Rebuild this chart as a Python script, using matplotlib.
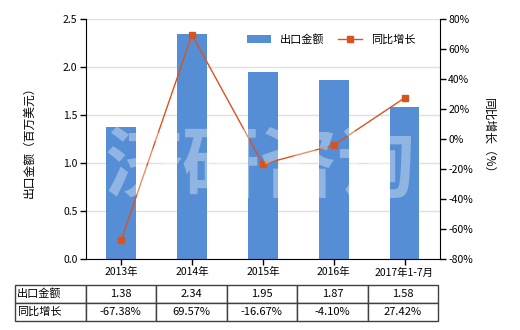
import matplotlib
matplotlib.use("Agg")
import matplotlib.pyplot as plt

plt.rcParams['font.family'] = ['Noto Sans CJK SC', 'DejaVu Sans']
plt.rcParams['axes.unicode_minus'] = False

# 数据
categories = ["2013年", "2014年", "2015年", "2016年", "2017年1-7月"]
export_values = [1.38, 2.34, 1.95, 1.87, 1.58]
growth_rates = [-67.38, 69.57, -16.67, -4.10, 27.42]

bar_color = "#558ED5"
line_color = "#D9531E"

fig = plt.figure(figsize=(5.2, 3.3), dpi=100)
ax = fig.add_axes([0.165, 0.215, 0.681, 0.727])
ax2 = ax.twinx()

x = list(range(len(categories)))
ax.bar(x, export_values, width=0.42, color=bar_color, label="出口金额", zorder=2)
ax2.plot(x, growth_rates, color=line_color, lw=1, marker='s', markersize=5,
         label="同比增长", zorder=3)

ax.set_xlim(-0.5, len(categories) - 0.5)
ax.set_ylim(0, 2.5)
ax.set_yticks([0, 0.5, 1.0, 1.5, 2.0, 2.5])
ax.set_yticklabels(["0.0", "0.5", "1.0", "1.5", "2.0", "2.5"])
ax2.set_ylim(-80, 80)
ax2.set_yticks(range(-80, 81, 20))
ax2.set_yticklabels([f"{v}%" for v in range(-80, 81, 20)])

ax.set_xticks(x)
ax.set_xticklabels(categories)
ax.grid(axis='y', color='#e0e0e0', lw=1, zorder=0)
ax.set_axisbelow(True)

for a in (ax, ax2):
    a.spines['top'].set_visible(False)
    a.tick_params(labelsize=7.5, length=4, width=1, colors='black', pad=2)
ax.spines['right'].set_visible(False)
ax2.spines['left'].set_visible(False)
ax2.spines['bottom'].set_visible(False)

ax.set_ylabel("出口金额（百万美元）", fontsize=8.5, labelpad=20)
ax2.set_ylabel("同比增长（%）", fontsize=8.5, rotation=-90, labelpad=16)

# 图例
h1, l1 = ax.get_legend_handles_labels()
h2, l2 = ax2.get_legend_handles_labels()
ax2.legend(h1 + h2, l1 + l2, loc='upper right', ncol=2, frameon=False,
           fontsize=8, bbox_to_anchor=(0.96, 0.98), handlelength=2.2,
           columnspacing=1.2)

# 水印
fig.text(0.5, 0.49, "济研咨询", fontsize=56, color='white', alpha=0.35,
         ha='center', va='center', fontweight='bold', zorder=5)

# 数据表
cell_text = [["出口金额"] + [f"{v:.2f}" for v in export_values],
             ["同比增长"] + [f"{v:.2f}%" for v in growth_rates]]
tbl = ax.table(cellText=cell_text, cellLoc='center',
               bbox=[-0.2, -0.258, 1.195, 0.15])
tbl.auto_set_font_size(False)
tbl.set_fontsize(8)
for (r, c), cell in tbl.get_celld().items():
    cell.set_edgecolor('#404040')
    cell.set_linewidth(1)
    if c == 0:
        cell.set_text_props(ha='left')
        cell._loc = 'left'
        cell.PAD = 0.03

fig.savefig("out.png", dpi=100)
